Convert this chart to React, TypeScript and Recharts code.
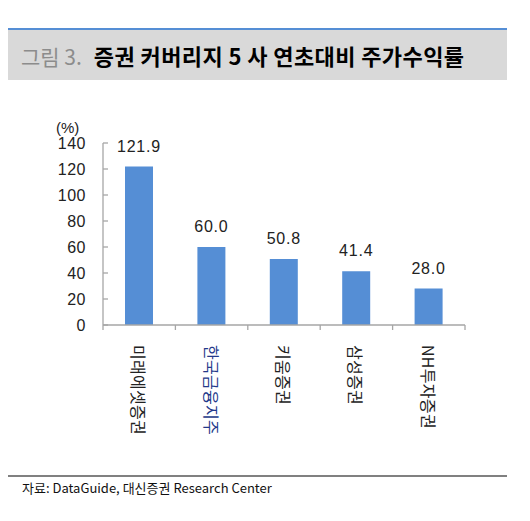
import React from "react";
import { BarChart, Bar, XAxis, YAxis, LabelList } from "recharts";

const categories = ["미래에셋증권", "한국금융지주", "키움증권", "삼성증권", "NH투자증권"];
const returns = [121.9, 60.0, 50.8, 41.4, 28.0];
const yTicks = [0, 20, 40, 60, 80, 100, 120, 140];
const labelColors = ["#222222", "#23398a", "#222222", "#222222", "#222222"];

const data = categories.map((name, i) => ({ name, value: returns[i], color: labelColors[i] }));

const NUM_FONT = "'Liberation Sans', Arial, sans-serif";
const KR_FONT = "'Noto Sans CJK KR', 'Noto Sans', sans-serif";
const AXIS_COLOR = "#a6a6a6";

const YTick = (props: any) => {
  const { x, y, payload } = props;
  const axisX = x + 17;
  return (
    <g>
      <line x1={axisX} x2={axisX + 5} y1={y} y2={y} stroke={AXIS_COLOR} strokeWidth={1.3} />
      <text
        x={x}
        y={y}
        textAnchor="end"
        dominantBaseline="central"
        fontFamily={NUM_FONT}
        fontSize={16}
        letterSpacing={0.5}
        fill="#222"
      >
        {payload.value}
      </text>
    </g>
  );
};

const XTick = (props: any) => {
  const { x, y, payload, index } = props;
  const half = payload && payload.offset ? payload.offset : 36.2;
  const color = labelColors[index] || "#222";
  return (
    <g>
      <line x1={x - half} x2={x - half} y1={y} y2={y + 5} stroke={AXIS_COLOR} strokeWidth={1.3} />
      {index === categories.length - 1 && (
        <line x1={x + half} x2={x + half} y1={y} y2={y + 5} stroke={AXIS_COLOR} strokeWidth={1.3} />
      )}
      <text
        x={0}
        y={0}
        transform={`translate(${x}, ${y + 20}) rotate(90)`}
        textAnchor="start"
        dominantBaseline="central"
        fontFamily={KR_FONT}
        fontSize={16}
        letterSpacing={0.3}
        fill={color}
      >
        {payload.value}
      </text>
    </g>
  );
};

export default function App() {
  return (
    <div style={{ position: "absolute", left: 0, top: 0, width: 530, height: 521, background: "#fff" }}>
      {/* title bar */}
      <div style={{ position: "absolute", left: 8, top: 28, width: 499, height: 2, background: "#558ed5" }} />
      <div
        style={{
          position: "absolute",
          left: 8,
          top: 30,
          width: 499,
          height: 50,
          background: "#d9d9d9",
        }}
      />
      <div
        style={{
          position: "absolute",
          left: 21,
          top: 40,
          height: 30,
          lineHeight: "30px",
          whiteSpace: "nowrap",
          fontFamily: KR_FONT,
          fontSize: 22,
        }}
      >
        <span style={{ color: "#8c8c8c", fontWeight: 400, fontSize: 21 }}>그림 3.</span>
        <span style={{ color: "#000", fontWeight: 700, marginLeft: 12, letterSpacing: 0.4 }}>
          증권 커버리지 5 사 연초대비 주가수익률
        </span>
      </div>

      {/* unit */}
      <div
        style={{
          position: "absolute",
          left: 56,
          top: 119,
          fontFamily: NUM_FONT,
          fontSize: 15,
          color: "#222",
          lineHeight: "18px",
        }}
      >
        (%)
      </div>

      <div style={{ position: "absolute", left: 0, top: 0 }}>
        <BarChart
          width={530}
          height={521}
          data={data}
          margin={{ top: 143, right: 65, bottom: 136, left: 53 }}
        >
          <XAxis
            dataKey="name"
            type="category"
            axisLine={{ stroke: AXIS_COLOR, strokeWidth: 1.3 }}
            tickLine={false}
            tickSize={0}
            tickMargin={0}
            height={60}
            interval={0}
            tick={<XTick />}
          />
          <YAxis
            type="number"
            domain={[0, 140]}
            ticks={yTicks}
            interval={0}
            width={50}
            axisLine={{ stroke: AXIS_COLOR, strokeWidth: 1.3 }}
            tickLine={false}
            tickSize={0}
            tickMargin={17}
            tick={<YTick />}
          />
          <Bar dataKey="value" fill="#558ed5" barSize={28} isAnimationActive={false}>
            <LabelList
              dataKey="value"
              position="top"
              offset={15}
              formatter={(v: any) => Number(v).toFixed(1)}
              style={{ fontFamily: NUM_FONT, fontSize: 16, fill: "#222", letterSpacing: 0.8 }}
            />
          </Bar>
        </BarChart>
      </div>

      {/* source */}
      <div style={{ position: "absolute", left: 8, top: 475, width: 499, height: 2, background: "#808080" }} />
      <div
        style={{
          position: "absolute",
          left: 22,
          top: 479,
          fontFamily: KR_FONT,
          fontSize: 13,
          letterSpacing: 0,
          color: "#111",
          whiteSpace: "nowrap",
          lineHeight: "18px",
        }}
      >
        자료: DataGuide, 대신증권 Research Center
      </div>
    </div>
  );
}
